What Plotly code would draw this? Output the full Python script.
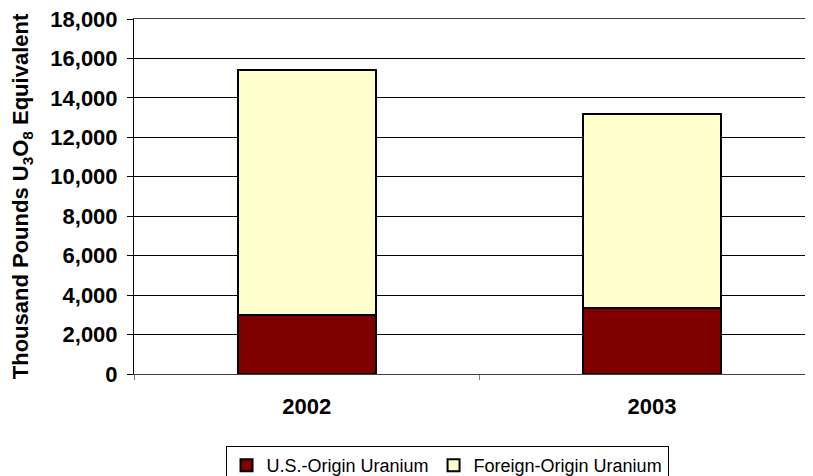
import plotly.graph_objects as go

years = ["2002", "2003"]
us_origin = [3000, 3350]
foreign_origin = [12400, 9850]
y_ticks = [0, 2000, 4000, 6000, 8000, 10000, 12000, 14000, 16000, 18000]
y_labels = ["0", "2,000", "4,000", "6,000", "8,000", "10,000", "12,000", "14,000", "16,000", "18,000"]

FONT = "Liberation Sans, Arial, sans-serif"

fig = go.Figure()
fig.add_trace(go.Bar(x=years, y=us_origin, name="U.S.-Origin Uranium",
                     marker=dict(color="#800000", line=dict(color="#000000", width=2)),
                     width=0.4))
fig.add_trace(go.Bar(x=years, y=foreign_origin, name="Foreign-Origin Uranium",
                     marker=dict(color="#FFFFCC", line=dict(color="#000000", width=2)),
                     width=0.4))

# page body has an 8px margin, so the figure is sized/placed to compensate
fig.update_layout(
    barmode="stack",
    width=805, height=468,
    margin=dict(l=126, r=0, t=11, b=102, autoexpand=False),
    paper_bgcolor="white", plot_bgcolor="white",
    font=dict(family=FONT, size=19, color="black"),
    showlegend=True,
    legend=dict(orientation="h", x=0.461, y=-0.203, xanchor="center", yanchor="top",
                bordercolor="black", borderwidth=1, font=dict(size=18, family=FONT),
                traceorder="normal", itemwidth=30),
    xaxis=dict(type="category", range=[-0.5, 1.466], showline=True, linecolor="#404040",
               mirror=True,
               ticks="outside", tickson="boundaries", ticklen=5, tickcolor="#808080",
               tickvals=years, ticktext=["<b>%s</b>" % y for y in years],
               tickfont=dict(size=22, family=FONT, color="black"),
               ticklabelstandoff=13, showgrid=False, automargin=False),
    yaxis=dict(range=[0, 18000], tickvals=y_ticks, ticktext=["<b>%s</b>" % t for t in y_labels],
               showline=True, linecolor="black", ticks="outside", ticklen=6, tickcolor="black",
               showgrid=True, gridcolor="#000000", gridwidth=1, zeroline=False,
               tickfont=dict(size=22, family=FONT), ticklabelstandoff=5, automargin=False,
               ticklabeloverflow="allow",
               title=dict(text="<b>Thousand Pounds U<sub>3</sub>O<sub>8</sub> Equivalent</b>",
                          font=dict(size=22, family=FONT), standoff=16)),
)
fig.write_html("out.html")
